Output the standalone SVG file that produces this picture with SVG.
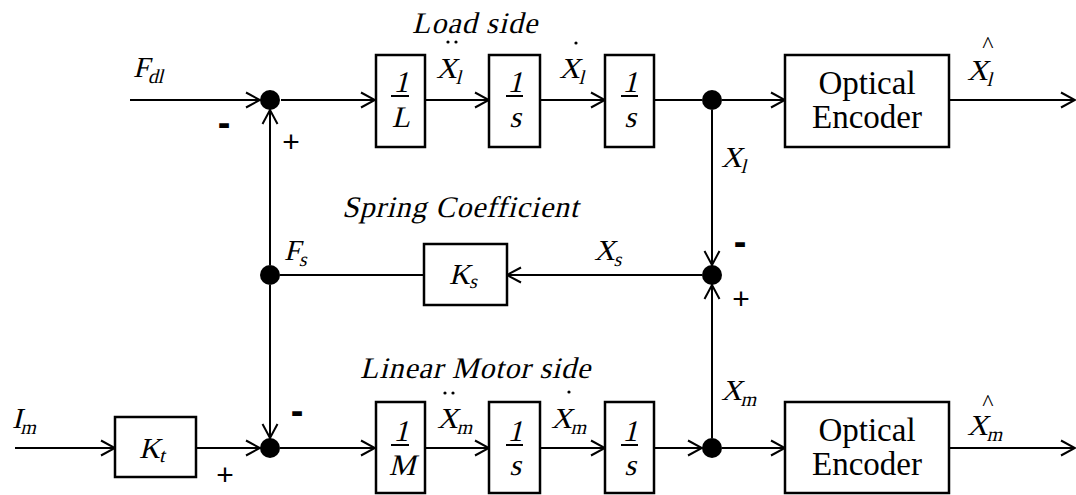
<svg xmlns="http://www.w3.org/2000/svg" width="1076" height="495" viewBox="0 0 1076 495">
<defs>
<marker id="arr" markerUnits="userSpaceOnUse" viewBox="0 0 16 18" refX="15" refY="9" markerWidth="16" markerHeight="18" orient="auto">
<path d="M1,1.5 L15,9 L1,16.5" fill="none" stroke="#000" stroke-width="2"/>
</marker>
</defs>
<style>
.bx{fill:#fff;stroke:#000;stroke-width:2.5}
.ln{fill:none;stroke:#000;stroke-width:2}
.a{marker-end:url(#arr)}
.dot{fill:#000}
.it{font-family:"Liberation Serif","Times New Roman",serif;font-size:29px;fill:#000}
.sub{font-size:20px}
.frac{font-family:"Liberation Serif","Times New Roman",serif;font-size:30px;fill:#000;text-anchor:middle}
.enc{font-family:"Liberation Serif","Times New Roman",serif;font-size:33px;fill:#000;text-anchor:middle}
.ttl{font-family:"Liberation Serif","Times New Roman",serif;font-size:30px;fill:#000}
.mn{font-family:"Liberation Sans",Arial,sans-serif;font-weight:bold;font-size:38px;fill:#000;text-anchor:middle}
.pl{font-family:"Liberation Sans",Arial,sans-serif;font-size:30px;fill:#000;text-anchor:middle}
.hat{font-family:"Liberation Serif","Times New Roman",serif;font-size:24px;fill:#000;text-anchor:middle}
</style>
<rect width="1076" height="495" fill="#fff"/>
<g id="connectors">
<path class="ln a" d="M130,100 H260"/>
<path class="ln a" d="M281,100 H375"/>
<path class="ln a" d="M425,100 H489"/>
<path class="ln a" d="M540,100 H605"/>
<path class="ln" d="M654,100 H702"/>
<path class="ln a" d="M722,100 H785"/>
<path class="ln a" d="M949,100 H1075"/>
<path class="ln a" d="M712,110 V265"/>
<path class="ln a" d="M702,275 H507"/>
<path class="ln" d="M424,275 H280"/>
<path class="ln a" d="M270,265 V110"/>
<path class="ln a" d="M270,285 V438"/>
<path class="ln a" d="M15,448 H115"/>
<path class="ln a" d="M196,448 H260"/>
<path class="ln a" d="M280,448 H375"/>
<path class="ln a" d="M425,448 H489"/>
<path class="ln a" d="M540,448 H605"/>
<path class="ln a" d="M654,448 H702"/>
<path class="ln a" d="M722,448 H785"/>
<path class="ln a" d="M949,448 H1075"/>
<path class="ln a" d="M712,438 V285"/>
</g>
<g id="sum1"><circle class="dot" cx="270" cy="100" r="10"/><text class="mn" x="224" y="136">-</text><text class="pl" x="291" y="152">+</text></g>
<g id="junction1"><circle class="dot" cx="712" cy="100" r="10"/></g>
<g id="sum2"><circle class="dot" cx="712" cy="275" r="10"/><text class="mn" x="740" y="255">-</text><text class="pl" x="741" y="309">+</text></g>
<g id="junctionFs"><circle class="dot" cx="270" cy="275" r="10"/></g>
<g id="sum3"><circle class="dot" cx="270" cy="448" r="10"/><text class="mn" x="297" y="424">-</text><text class="pl" x="225" y="485">+</text></g>
<g id="junction3"><circle class="dot" cx="712" cy="448" r="10"/></g>

<g id="blockL"><rect class="bx" x="376" y="55" width="49" height="92"/><text class="frac" transform="translate(401,92) skewX(-14)">1</text><line class="ln" x1="391" y1="96" x2="409" y2="96"/><text class="frac" transform="translate(401,127) skewX(-14)">L</text></g>
<g id="int1"><rect class="bx" x="489" y="55" width="51" height="92"/><text class="frac" transform="translate(515,92) skewX(-14)">1</text><line class="ln" x1="506" y1="96" x2="523" y2="96"/><text class="frac" transform="translate(515,127) skewX(-14)">s</text></g>
<g id="int2"><rect class="bx" x="605" y="55" width="49" height="92"/><text class="frac" transform="translate(630,92) skewX(-14)">1</text><line class="ln" x1="621" y1="96" x2="638" y2="96"/><text class="frac" transform="translate(630,127) skewX(-14)">s</text></g>
<g id="enc1"><rect class="bx" x="785" y="55" width="164" height="92"/><text class="enc" x="867" y="94">Optical</text><text class="enc" x="867" y="128">Encoder</text></g>

<g id="blockKs"><rect class="bx" x="424" y="244" width="83" height="61"/><text class="it" transform="translate(449,284) skewX(-14)">K<tspan class="sub" dy="4">s</tspan></text></g>

<g id="blockKt"><rect class="bx" x="115" y="417" width="81" height="60"/><text class="it" transform="translate(139,458) skewX(-14)">K<tspan class="sub" dy="4">t</tspan></text></g>
<g id="blockM"><rect class="bx" x="376" y="402" width="49" height="91"/><text class="frac" transform="translate(401,441) skewX(-14)">1</text><line class="ln" x1="391" y1="445" x2="409" y2="445"/><text class="frac" transform="translate(402,475) skewX(-14)">M</text></g>
<g id="int3"><rect class="bx" x="489" y="402" width="51" height="91"/><text class="frac" transform="translate(515,441) skewX(-14)">1</text><line class="ln" x1="506" y1="445" x2="523" y2="445"/><text class="frac" transform="translate(515,475) skewX(-14)">s</text></g>
<g id="int4"><rect class="bx" x="605" y="402" width="49" height="91"/><text class="frac" transform="translate(630,441) skewX(-14)">1</text><line class="ln" x1="621" y1="445" x2="638" y2="445"/><text class="frac" transform="translate(630,475) skewX(-14)">s</text></g>
<g id="enc2"><rect class="bx" x="785" y="402" width="164" height="91"/><text class="enc" x="867" y="441">Optical</text><text class="enc" x="867" y="475">Encoder</text></g>

<g id="labels">
<text class="ttl" transform="translate(412,33) skewX(-14)" textLength="125">Load side</text>
<text class="ttl" transform="translate(342,217) skewX(-14)" textLength="236">Spring Coefficient</text>
<text class="ttl" transform="translate(360,378) skewX(-14)" textLength="230">Linear Motor side</text>
<text class="it" transform="translate(133,77) skewX(-14)">F<tspan class="sub" dy="6">dl</tspan></text>
<text class="it" transform="translate(436,78) skewX(-14)">X<tspan class="sub" dy="6">l</tspan></text>
<circle class="dot" cx="448" cy="42" r="1.6"/><circle class="dot" cx="456" cy="42" r="1.6"/>
<text class="it" transform="translate(559,78) skewX(-14)">X<tspan class="sub" dy="6">l</tspan></text>
<circle class="dot" cx="576" cy="43" r="1.6"/>
<text class="it" transform="translate(967,80) skewX(-14)">X<tspan class="sub" dy="6">l</tspan></text>
<text class="hat" x="988" y="52">^</text>
<text class="it" transform="translate(721,167) skewX(-14)">X<tspan class="sub" dy="6">l</tspan></text>
<text class="it" transform="translate(284,260) skewX(-14)">F<tspan class="sub" dy="6">s</tspan></text>
<text class="it" transform="translate(594,260) skewX(-14)">X<tspan class="sub" dy="6">s</tspan></text>
<text class="it" transform="translate(721,400) skewX(-14)">X<tspan class="sub" dy="6">m</tspan></text>
<text class="it" transform="translate(12,428) skewX(-14)">I<tspan class="sub" dy="6">m</tspan></text>
<text class="it" transform="translate(437,428) skewX(-14)">X<tspan class="sub" dy="6">m</tspan></text>
<circle class="dot" cx="445" cy="393" r="1.6"/><circle class="dot" cx="453" cy="393" r="1.6"/>
<text class="it" transform="translate(551,428) skewX(-14)">X<tspan class="sub" dy="6">m</tspan></text>
<circle class="dot" cx="569" cy="392" r="1.6"/>
<text class="it" transform="translate(967,435) skewX(-14)">X<tspan class="sub" dy="6">m</tspan></text>
<text class="hat" x="988" y="410">^</text>
</g>
</svg>
